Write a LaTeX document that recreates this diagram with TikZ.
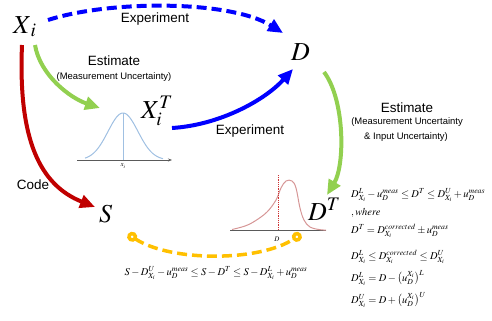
\documentclass[tikz,border=0pt]{standalone}
\usepackage{mathptmx}
\usepackage[no-math]{fontspec}
\setmainfont{Liberation Sans}
\definecolor{ExpBlue}{RGB}{0,0,255}
\definecolor{EstGreen}{RGB}{146,208,80}
\definecolor{CodeRed}{RGB}{192,0,0}
\definecolor{ValYellow}{RGB}{255,192,0}
\definecolor{PdfBlue}{RGB}{160,192,226}
\definecolor{PdfRed}{RGB}{214,150,150}
\definecolor{AxisGray}{RGB}{90,90,90}
\usetikzlibrary{arrows.meta, calc}

\begin{document}
\begin{tikzpicture}[x=1bp, y=-1bp,
	big/.style={inner sep=0pt, anchor=base west, font=\fontsize{26}{30}\selectfont},
	lbl/.style={inner sep=0pt, font=\fontsize{13.5}{16}\selectfont},
	note/.style={inner sep=0pt, font=\fontsize{9.5}{11}\selectfont},
	eq/.style={inner sep=0pt, anchor=west, font=\fontsize{10.5}{12}\selectfont},
	tiny/.style={inner sep=0pt, font=\fontsize{7}{8}\selectfont},
	link/.style={line width=4bp, -{Triangle[length=15bp,width=13bp]}}]
	\useasboundingbox (0,0) rectangle (492,320);

	\node[big] (Xi) at (13,33) {$X_{\,i}$};
	\node[big] (D) at (291,60) {$D$};
	\node[big] (XiT) at (141,118) {$X_i^T$};
	\node[big] (S) at (99,222) {$S$};
	\node[big] (DT) at (308,220) {$D^T$};

	\node[lbl] (exp1) at (155,19) {Experiment};
	\node[lbl] (exp2) at (250,131) {Experiment};
	\node[lbl] (est1) at (114,61) {Estimate};
	\node[note] (unc1) at (114,77) {(Measurement Uncertainty)};
	\node[lbl] (est2) at (407,108) {Estimate};
	\node[note] (unc2) at (407,122) {(Measurement Uncertainty};
	\node[note] (unc3) at (406,137) {\& Input Uncertainty)};
	\node[lbl] (code) at (33,185) {Code};

	\draw[AxisGray, line width=1bp, -{Stealth[length=4bp]}] (77,160) -- (172,160);
	\draw[PdfBlue, line width=1bp] plot[domain=85:163, samples=60, smooth] (\x, {160-47*exp(-((\x-123)^2)/450)});
	\draw[PdfBlue, line width=0.8bp] (123,113) -- (123,160);
	\node[tiny] (xlab) at (123,166) {$x_i$};

	\draw[AxisGray, line width=1bp] (230,230) -- (326,230);
	\draw[PdfRed, line width=1bp] plot[smooth, tension=0.6] coordinates {(232,229.5) (245,226) (255,221) (267,212) (276,200) (281,188) (286,181) (292,181) (296,188) (300,208) (304,220) (310,227) (320,229.7) (326,230)};
	\draw[CodeRed!80, densely dotted, line width=0.8bp] (278,175) -- (278,230);
	\node[tiny] (dlab) at (277,239) {$D$};

	\draw[link, ExpBlue, dash pattern=on 10bp off 5bp] ($(Xi.base west)+(35,-13)$) .. controls (110,0) and (230,0) .. ($(D.base west)+(-8,-27)$);
	\draw[link, EstGreen] ($(Xi.base west)+(22,12)$) .. controls (40,75) and (70,98) .. ($(XiT.base west)+(-41,-10)$);
	\draw[link, ExpBlue] ($(XiT.base west)+(31,10)$) .. controls (220,125) and (265,100) .. ($(D.base west)+(2,9)$);
	\draw[link, EstGreen] ($(D.base west)+(33,12)$) .. controls (345,100) and (345,165) .. ($(DT.base west)+(19,-25)$);
	\draw[link, CodeRed] ($(Xi.base west)+(9,12)$) .. controls (18,140) and (40,185) .. ($(S.base west)+(-4,-15)$);

	\coordinate (valL) at (128,234);
	\coordinate (valR) at (301,234);
	\draw[ValYellow, line width=3.5bp, dash pattern=on 10bp off 5bp, {Circle[open,length=10bp,width=10bp]}-{Circle[open,length=10bp,width=10bp]}] (valL) .. controls (170,262) and (260,262) .. (valR);

	\node[eq, anchor=center] (eqS) at (216,273) {$S - D^U_{X_i} - u_D^{meas} \le S - D^T \le S - D^L_{X_i} + u_D^{meas}$};
	\node[eq] (eqA) at (351,195) {$D^L_{X_i} - u_D^{meas} \le D^T \le D^U_{X_i} + u_D^{meas}$};
	\node[eq] (eqB) at (351,213) {$,\mathit{where}$};
	\node[eq] (eqC) at (351,231) {$D^T = D^{corrected}_{X_i} \pm u_D^{meas}$};
	\node[eq] (eqD) at (351,257) {$D^L_{X_i} \le D^{corrected}_{X_i} \le D^U_{X_i}$};
	\node[eq] (eqE) at (351,278) {$D^L_{X_i} = D - \bigl(u_D^{X_i}\bigr)^L$};
	\node[eq] (eqF) at (351,300) {$D^U_{X_i} = D + \bigl(u_D^{X_i}\bigr)^U$};
\end{tikzpicture}
\end{document}
